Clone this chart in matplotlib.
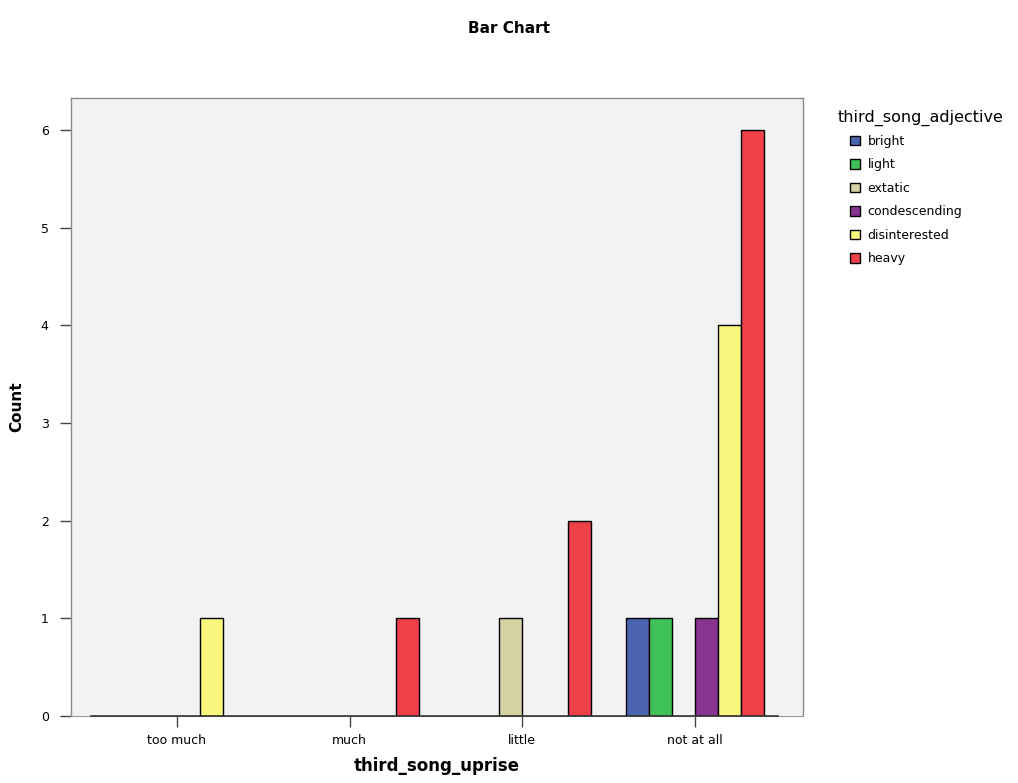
import matplotlib
matplotlib.use("Agg")
import matplotlib.pyplot as plt
import numpy as np
from matplotlib.patches import Patch

# Categories on the x axis and the grouping variable
categories = ["too much", "much", "little", "not at all"]
adjectives = ["bright", "light", "extatic", "condescending", "disinterested", "heavy"]

# Counts per adjective, one value per category
bright = [0, 0, 0, 1]
light = [0, 0, 0, 1]
extatic = [0, 0, 1, 0]
condescending = [0, 0, 0, 1]
disinterested = [1, 0, 0, 4]
heavy = [0, 1, 2, 6]

colors = ["#4a64b0", "#3ec257", "#d6d1a2", "#873490", "#faf77e", "#ef3f48"]
series = [bright, light, extatic, condescending, disinterested, heavy]

fig = plt.figure(figsize=(10.18, 7.83), dpi=100)
ax = fig.add_axes([0.0697, 0.0856, 0.7191, 0.7893])
ax.set_facecolor("#f2f2f2")

x = np.arange(len(categories))
n = len(series)
width = 0.133
for i, (vals, col) in enumerate(zip(series, colors)):
    offs = (i - (n - 1) / 2) * width
    for xi, v in zip(x, vals):
        if v > 0:
            ax.bar(xi + offs, v, width=width, color=col, edgecolor="black",
                   linewidth=1.0, zorder=3)

ax.set_xlim(-0.614, 3.625)
ax.set_ylim(0, 6.33)
ax.set_yticks(range(0, 7))
ax.set_xticks(x)
ax.set_xticklabels(categories)
ax.tick_params(axis="both", labelsize=9, length=8, width=1.0, color="#444444",
               direction="out")
ax.tick_params(axis="x", pad=5)
ax.tick_params(axis="y", pad=8)

for s in ["left", "top", "right"]:
    ax.spines[s].set_color("#8a8a8a")
    ax.spines[s].set_linewidth(1.0)
ax.spines["bottom"].set_color("#999999")
# dark axis line spanning only the categories
ax.plot([-0.5, 3.48], [0, 0], color="#333333", linewidth=1.2, zorder=4,
        clip_on=False)

ax.set_xlabel("third_song_uprise", fontsize=12, fontweight="bold", labelpad=7)
ax.set_ylabel("Count", fontsize=11, fontweight="bold", labelpad=12)

fig.text(0.5, 0.963, "Bar Chart", ha="center", va="center", fontsize=11,
         fontweight="bold")

# Legend
fig.text(0.823, 0.849, "third_song_adjective", ha="left", va="center",
         fontsize=11.5)
handles = [Patch(facecolor=c, edgecolor="black", linewidth=1.0) for c in colors]
fig.legend(handles, adjectives, loc="upper left",
           bbox_to_anchor=(0.835, 0.828), frameon=False, fontsize=9,
           handlelength=0.8, handleheight=0.8, handletextpad=0.6,
           labelspacing=0.84, borderaxespad=0, borderpad=0)

fig.savefig("out.png", dpi=100)
